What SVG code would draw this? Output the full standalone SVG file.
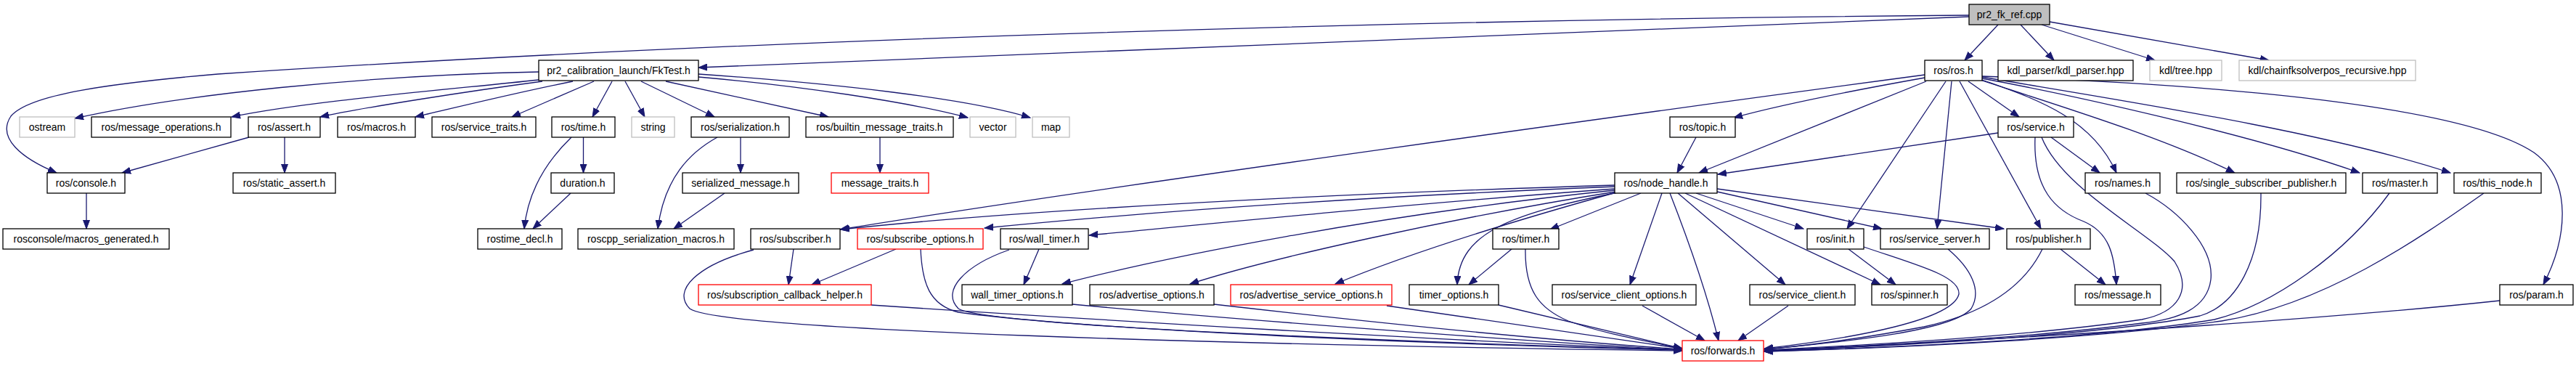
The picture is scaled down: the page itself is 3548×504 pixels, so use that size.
<svg xmlns="http://www.w3.org/2000/svg" width="3548" height="504" viewBox="0 0 3548 504">
<style>
.n rect{fill:#ffffff;stroke:#000000;stroke-width:1.3}
.n.g rect{stroke:#bfbfbf}
.n.r rect{stroke:#ff0000}
.n.root rect{fill:#bfbfbf}
.n text{font-family:"Liberation Sans",Arial,sans-serif;font-size:14px;text-anchor:middle;fill:#000000}
.e path{fill:none;stroke:#191970;stroke-width:1.3;marker-end:url(#a)}
</style>
<defs>
<marker id="a" markerWidth="13" markerHeight="10" refX="12" refY="5" orient="auto" markerUnits="userSpaceOnUse">
<path d="M0,0.5 L12,5 L0,9.5 z" fill="#191970" stroke="#191970" stroke-width="1"/>
</marker>
</defs>
<rect width="3548" height="504" fill="#ffffff"/>
<g id="edges" class="e">
<path d="M2712,21 C1800,28 900,62 300,102 C150,115 40,130 15,160 C-5,190 30,218 78,238"/>
<path d="M2712,23 L962,93"/>
<path d="M2752,34 L2706,83"/>
<path d="M2783,34 L2829,83"/>
<path d="M2812,34 L2968,83"/>
<path d="M2823,30 L3125,83"/>
<path d="M742,99 C500,104 250,130 103,163"/>
<path d="M742,110 C600,125 420,140 319,161"/>
<path d="M747,112 C650,125 500,148 441,161"/>
<path d="M789,112 C700,130 620,150 572,161"/>
<path d="M818,112 L705,161"/>
<path d="M843,112 L816,161"/>
<path d="M861,112 L888,161"/>
<path d="M883,112 L984,161"/>
<path d="M917,112 L1141,161"/>
<path d="M962,106 C1100,118 1250,140 1333,162"/>
<path d="M962,102 C1150,115 1330,135 1419,162"/>
<path d="M343,189 L168,238"/>
<path d="M392,189 L392,238"/>
<path d="M119,266 L119,315"/>
<path d="M803.5,189 L803.5,238"/>
<path d="M787,189 C760,215 728,255 722,315"/>
<path d="M786,266 L734,315"/>
<path d="M1020,189 L1020,238"/>
<path d="M988,189 C950,210 915,245 906,315"/>
<path d="M998,266 L928,315"/>
<path d="M1212,189 L1212,238"/>
<path d="M2651,103 C2300,150 1500,260 1157,316"/>
<path d="M2651,107 C2550,125 2450,145 2388,162"/>
<path d="M2653,112 L2340,238"/>
<path d="M2680,112 L2544,315"/>
<path d="M2688,112 L2668,315"/>
<path d="M2699,112 L2811,315"/>
<path d="M2711,112 L2781,161"/>
<path d="M2730,110 C2800,135 2880,160 2915,238"/>
<path d="M2730,111 C2850,150 2980,190 3078,238"/>
<path d="M2730,108 C2850,130 3100,185 3250,238"/>
<path d="M2730,106 C2900,135 3200,180 3375,238"/>
<path d="M2730,105 C3100,118 3400,150 3490,210 C3545,250 3535,330 3503,392"/>
<path d="M2752,183 L2366,240"/>
<path d="M2825,189 L2892,238"/>
<path d="M2803,189 C2800,260 2830,290 2870,305 C2905,320 2912,350 2915,392"/>
<path d="M2812,189 C2840,260 2960,320 2995,360 C3020,400 3000,430 2950,440 C2800,462 2600,474 2430,482"/>
<path d="M2955,266 C3000,290 3050,340 3045,385 C3040,425 3000,440 2950,445 C2800,465 2600,475 2430,483"/>
<path d="M3114,266 C3115,360 3080,420 3030,435 C2900,460 2650,475 2430,483"/>
<path d="M3291,266 C3230,350 3130,420 3050,440 C2900,465 2650,477 2430,484"/>
<path d="M3421,266 C3330,330 3200,420 3060,442 C2900,465 2650,478 2430,484"/>
<path d="M3443,414 C3200,440 2800,465 2430,484"/>
<path d="M2838,343 L2900,392"/>
<path d="M2813,343 C2790,390 2740,430 2650,450 C2570,465 2500,475 2430,481"/>
<path d="M2546,343 L2611,392"/>
<path d="M2567,340 C2640,365 2700,380 2698,405 C2690,440 2560,465 2430,480"/>
<path d="M2683,343 C2715,370 2730,400 2715,425 C2690,455 2550,470 2430,481"/>
<path d="M2463,421 L2394,469"/>
<path d="M2224,255 C1800,268 1400,290 1158,316"/>
<path d="M2224,257 C1900,270 1600,290 1356,314"/>
<path d="M2224,260 C1950,280 1700,305 1500,324"/>
<path d="M2224,262 C1900,295 1600,355 1463,391"/>
<path d="M2225,264 C2000,300 1750,355 1639,391"/>
<path d="M2226,265 C2100,300 1950,345 1839,391"/>
<path d="M2228,265 C2080,295 2010,320 2007,392"/>
<path d="M2260,266 L2135,316"/>
<path d="M2289,266 L2245,392"/>
<path d="M2300,266 C2325,330 2350,400 2367,469"/>
<path d="M2336,266 L2484,315"/>
<path d="M2311,266 L2459,392"/>
<path d="M2321,266 L2590,392"/>
<path d="M2365,264 L2592,315"/>
<path d="M2365,260 L2760,315"/>
<path d="M2336,189 L2310,238"/>
<path d="M2082,343 L2023,392"/>
<path d="M2101,343 C2100,400 2120,425 2160,442 C2210,460 2270,470 2317,480"/>
<path d="M2262,421 L2348,469"/>
<path d="M2064,420 L2317,480"/>
<path d="M1910,421 L2317,480"/>
<path d="M1672,419 C1900,445 2150,470 2317,481"/>
<path d="M1477,419 C1700,440 2100,470 2317,482"/>
<path d="M1200,420 C1500,440 2000,470 2317,482"/>
<path d="M1093,343 L1086,392"/>
<path d="M1038,344 C960,365 925,400 950,425 C990,455 1700,475 2317,483"/>
<path d="M1234,343 L1118,392"/>
<path d="M1268,343 C1270,390 1280,420 1320,430 C1500,455 2000,475 2317,482"/>
<path d="M1431,343 L1410,392"/>
<path d="M1390,344 C1330,365 1295,400 1320,425 C1360,450 2000,473 2317,482"/>
</g>
<g id="n_root" class="n root"><rect x="2712" y="6" width="111" height="28"/><text x="2767.5" y="25">pr2_fk_ref.cpp</text></g>
<g id="n_fktest" class="n"><rect x="742" y="83" width="220" height="28"/><text x="852" y="102">pr2_calibration_launch/FkTest.h</text></g>
<g id="n_ros" class="n"><rect x="2651" y="83" width="79" height="28"/><text x="2690.5" y="102">ros/ros.h</text></g>
<g id="n_kdlparser" class="n"><rect x="2752" y="83" width="186" height="28"/><text x="2845" y="102">kdl_parser/kdl_parser.hpp</text></g>
<g id="n_kdltree" class="n g"><rect x="2961" y="83" width="99" height="28"/><text x="3010.5" y="102">kdl/tree.hpp</text></g>
<g id="n_chainfk" class="n g"><rect x="3084" y="83" width="243" height="28"/><text x="3205.5" y="102">kdl/chainfksolverpos_recursive.hpp</text></g>
<g id="n_ostream" class="n g"><rect x="27" y="161" width="76" height="28"/><text x="65" y="180">ostream</text></g>
<g id="n_msgops" class="n"><rect x="126" y="161" width="192" height="28"/><text x="222" y="180">ros/message_operations.h</text></g>
<g id="n_assert" class="n"><rect x="342" y="161" width="99" height="28"/><text x="391.5" y="180">ros/assert.h</text></g>
<g id="n_macros" class="n"><rect x="465" y="161" width="107" height="28"/><text x="518.5" y="180">ros/macros.h</text></g>
<g id="n_servicetraits" class="n"><rect x="595" y="161" width="143" height="28"/><text x="666.5" y="180">ros/service_traits.h</text></g>
<g id="n_time" class="n"><rect x="760" y="161" width="87" height="28"/><text x="803.5" y="180">ros/time.h</text></g>
<g id="n_string" class="n g"><rect x="870" y="161" width="59" height="28"/><text x="899.5" y="180">string</text></g>
<g id="n_serialization" class="n"><rect x="952" y="161" width="135" height="28"/><text x="1019.5" y="180">ros/serialization.h</text></g>
<g id="n_builtin" class="n"><rect x="1110" y="161" width="203" height="28"/><text x="1211.5" y="180">ros/builtin_message_traits.h</text></g>
<g id="n_vector" class="n g"><rect x="1336" y="161" width="63" height="28"/><text x="1367.5" y="180">vector</text></g>
<g id="n_map" class="n g"><rect x="1422" y="161" width="51" height="28"/><text x="1447.5" y="180">map</text></g>
<g id="n_topic" class="n"><rect x="2300" y="161" width="90" height="28"/><text x="2345" y="180">ros/topic.h</text></g>
<g id="n_service" class="n"><rect x="2752" y="161" width="104" height="28"/><text x="2804" y="180">ros/service.h</text></g>
<g id="n_console" class="n"><rect x="65" y="238" width="107" height="28"/><text x="118.5" y="257">ros/console.h</text></g>
<g id="n_staticassert" class="n"><rect x="321" y="238" width="141" height="28"/><text x="391.5" y="257">ros/static_assert.h</text></g>
<g id="n_duration" class="n"><rect x="759" y="238" width="87" height="28"/><text x="802.5" y="257">duration.h</text></g>
<g id="n_serializedmsg" class="n"><rect x="940" y="238" width="160" height="28"/><text x="1020" y="257">serialized_message.h</text></g>
<g id="n_msgtraits" class="n r"><rect x="1145" y="238" width="134" height="28"/><text x="1212" y="257">message_traits.h</text></g>
<g id="n_nodehandle" class="n"><rect x="2224" y="238" width="141" height="28"/><text x="2294.5" y="257">ros/node_handle.h</text></g>
<g id="n_names" class="n"><rect x="2872" y="238" width="103" height="28"/><text x="2923.5" y="257">ros/names.h</text></g>
<g id="n_singlesub" class="n"><rect x="2998" y="238" width="233" height="28"/><text x="3114.5" y="257">ros/single_subscriber_publisher.h</text></g>
<g id="n_master" class="n"><rect x="3254" y="238" width="103" height="28"/><text x="3305.5" y="257">ros/master.h</text></g>
<g id="n_thisnode" class="n"><rect x="3380" y="238" width="120" height="28"/><text x="3440" y="257">ros/this_node.h</text></g>
<g id="n_rosconsole" class="n"><rect x="4" y="315" width="229" height="28"/><text x="118.5" y="334">rosconsole/macros_generated.h</text></g>
<g id="n_rostimedecl" class="n"><rect x="658" y="315" width="116" height="28"/><text x="716" y="334">rostime_decl.h</text></g>
<g id="n_roscppser" class="n"><rect x="796" y="315" width="215" height="28"/><text x="903.5" y="334">roscpp_serialization_macros.h</text></g>
<g id="n_subscriber" class="n"><rect x="1034" y="315" width="123" height="28"/><text x="1095.5" y="334">ros/subscriber.h</text></g>
<g id="n_subopts" class="n r"><rect x="1181" y="315" width="173" height="28"/><text x="1267.5" y="334">ros/subscribe_options.h</text></g>
<g id="n_walltimer" class="n"><rect x="1378" y="315" width="121" height="28"/><text x="1438.5" y="334">ros/wall_timer.h</text></g>
<g id="n_timer" class="n"><rect x="2056" y="315" width="91" height="28"/><text x="2101.5" y="334">ros/timer.h</text></g>
<g id="n_init" class="n"><rect x="2489" y="315" width="78" height="28"/><text x="2528" y="334">ros/init.h</text></g>
<g id="n_serviceserver" class="n"><rect x="2590" y="315" width="150" height="28"/><text x="2665" y="334">ros/service_server.h</text></g>
<g id="n_publisher" class="n"><rect x="2764" y="315" width="115" height="28"/><text x="2821.5" y="334">ros/publisher.h</text></g>
<g id="n_cbhelper" class="n r"><rect x="962" y="392" width="238" height="28"/><text x="1081" y="411">ros/subscription_callback_helper.h</text></g>
<g id="n_walltimeropts" class="n"><rect x="1325" y="392" width="152" height="28"/><text x="1401" y="411">wall_timer_options.h</text></g>
<g id="n_advopts" class="n"><rect x="1501" y="392" width="171" height="28"/><text x="1586.5" y="411">ros/advertise_options.h</text></g>
<g id="n_advsrvopts" class="n r"><rect x="1695" y="392" width="222" height="28"/><text x="1806" y="411">ros/advertise_service_options.h</text></g>
<g id="n_timeropts" class="n"><rect x="1941" y="392" width="123" height="28"/><text x="2002.5" y="411">timer_options.h</text></g>
<g id="n_srvclientopts" class="n"><rect x="2138" y="392" width="198" height="28"/><text x="2237" y="411">ros/service_client_options.h</text></g>
<g id="n_srvclient" class="n"><rect x="2410" y="392" width="145" height="28"/><text x="2482.5" y="411">ros/service_client.h</text></g>
<g id="n_spinner" class="n"><rect x="2578" y="392" width="104" height="28"/><text x="2630" y="411">ros/spinner.h</text></g>
<g id="n_message" class="n"><rect x="2858" y="392" width="118" height="28"/><text x="2917" y="411">ros/message.h</text></g>
<g id="n_param" class="n"><rect x="3443" y="392" width="101" height="28"/><text x="3493.5" y="411">ros/param.h</text></g>
<g id="n_forwards" class="n r"><rect x="2317" y="469" width="112" height="28"/><text x="2373" y="488">ros/forwards.h</text></g>
</svg>
